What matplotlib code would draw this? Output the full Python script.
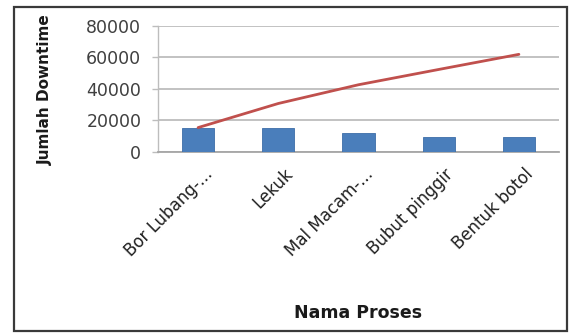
import matplotlib
matplotlib.use("Agg")
import matplotlib.pyplot as plt
from matplotlib.patches import Rectangle
import matplotlib.transforms as mtransforms

categories = ["Bor Lubang-...", "Lekuk", "Mal Macam-...", "Bubut pinggir", "Bentuk botol"]
downtime = [15500, 15300, 11900, 9700, 9600]
cumulative = [15500, 30800, 42700, 52400, 62000]
yticks = [0, 20000, 40000, 60000, 80000]

W, H = 574, 333
fig = plt.figure(figsize=(W / 100, H / 100), dpi=100)
fig.patch.set_facecolor("white")

# outer chart border
fig.patches.append(Rectangle((14 / W, 1 - 331 / H), (567 - 14) / W, (331 - 7) / H,
                             transform=fig.transFigure, fill=False,
                             edgecolor="#3a3a3a", linewidth=1.6))

ax = fig.add_axes([158 / W, 1 - 152 / H, 401 / W, (152 - 26) / H])
x = list(range(len(categories)))
ax.bar(x, downtime, width=0.4, color="#4a7ebb", edgecolor="#3d6da8",
       linewidth=0.6, zorder=3)
ax.plot(x, cumulative, color="#c0504d", linewidth=2.0, zorder=4,
        solid_capstyle="round")

ax.set_xlim(-0.5, len(categories) - 0.5)
ax.set_ylim(0, 80000)
ax.set_yticks(yticks)
ax.set_yticklabels([str(v) for v in yticks])
ax.yaxis.grid(True, color="#bdbdbd", linewidth=1.3, zorder=0)
ax.set_axisbelow(True)

for s in ["top", "right"]:
    ax.spines[s].set_visible(False)
ax.spines["left"].set_color("#bdbdbd")
ax.spines["left"].set_linewidth(1.0)
ax.spines["bottom"].set_color("#a6a6a6")
ax.spines["bottom"].set_linewidth(1.3)

ax.tick_params(axis="y", length=4, width=1.0, color="#bdbdbd", pad=8,
               labelsize=12.5, labelcolor="#404040")
ax.tick_params(axis="x", length=0, pad=14, labelsize=12, labelcolor="#1f1f1f")
ax.set_xticks(x)
ax.set_xticklabels(categories, rotation=45, ha="right", va="center",
                   rotation_mode="anchor")
offset = mtransforms.ScaledTranslation(12 / 100, 0, fig.dpi_scale_trans)
for lab in ax.get_xticklabels():
    lab.set_transform(lab.get_transform() + offset)
for lab in ax.get_yticklabels() + ax.get_xticklabels():
    lab.set_fontfamily("DejaVu Sans")

fig.text(45 / W, 1 - 90 / H, "Jumlah Downtime", rotation=90, ha="center",
         va="center", fontsize=11, fontweight="bold", color="#1a1a1a",
         family="DejaVu Sans")
fig.text(358 / W, 1 - 313 / H, "Nama Proses", ha="center", va="center",
         fontsize=12.5, fontweight="bold", color="#1a1a1a", family="DejaVu Sans")

fig.savefig("out.png", dpi=100, facecolor="white")
